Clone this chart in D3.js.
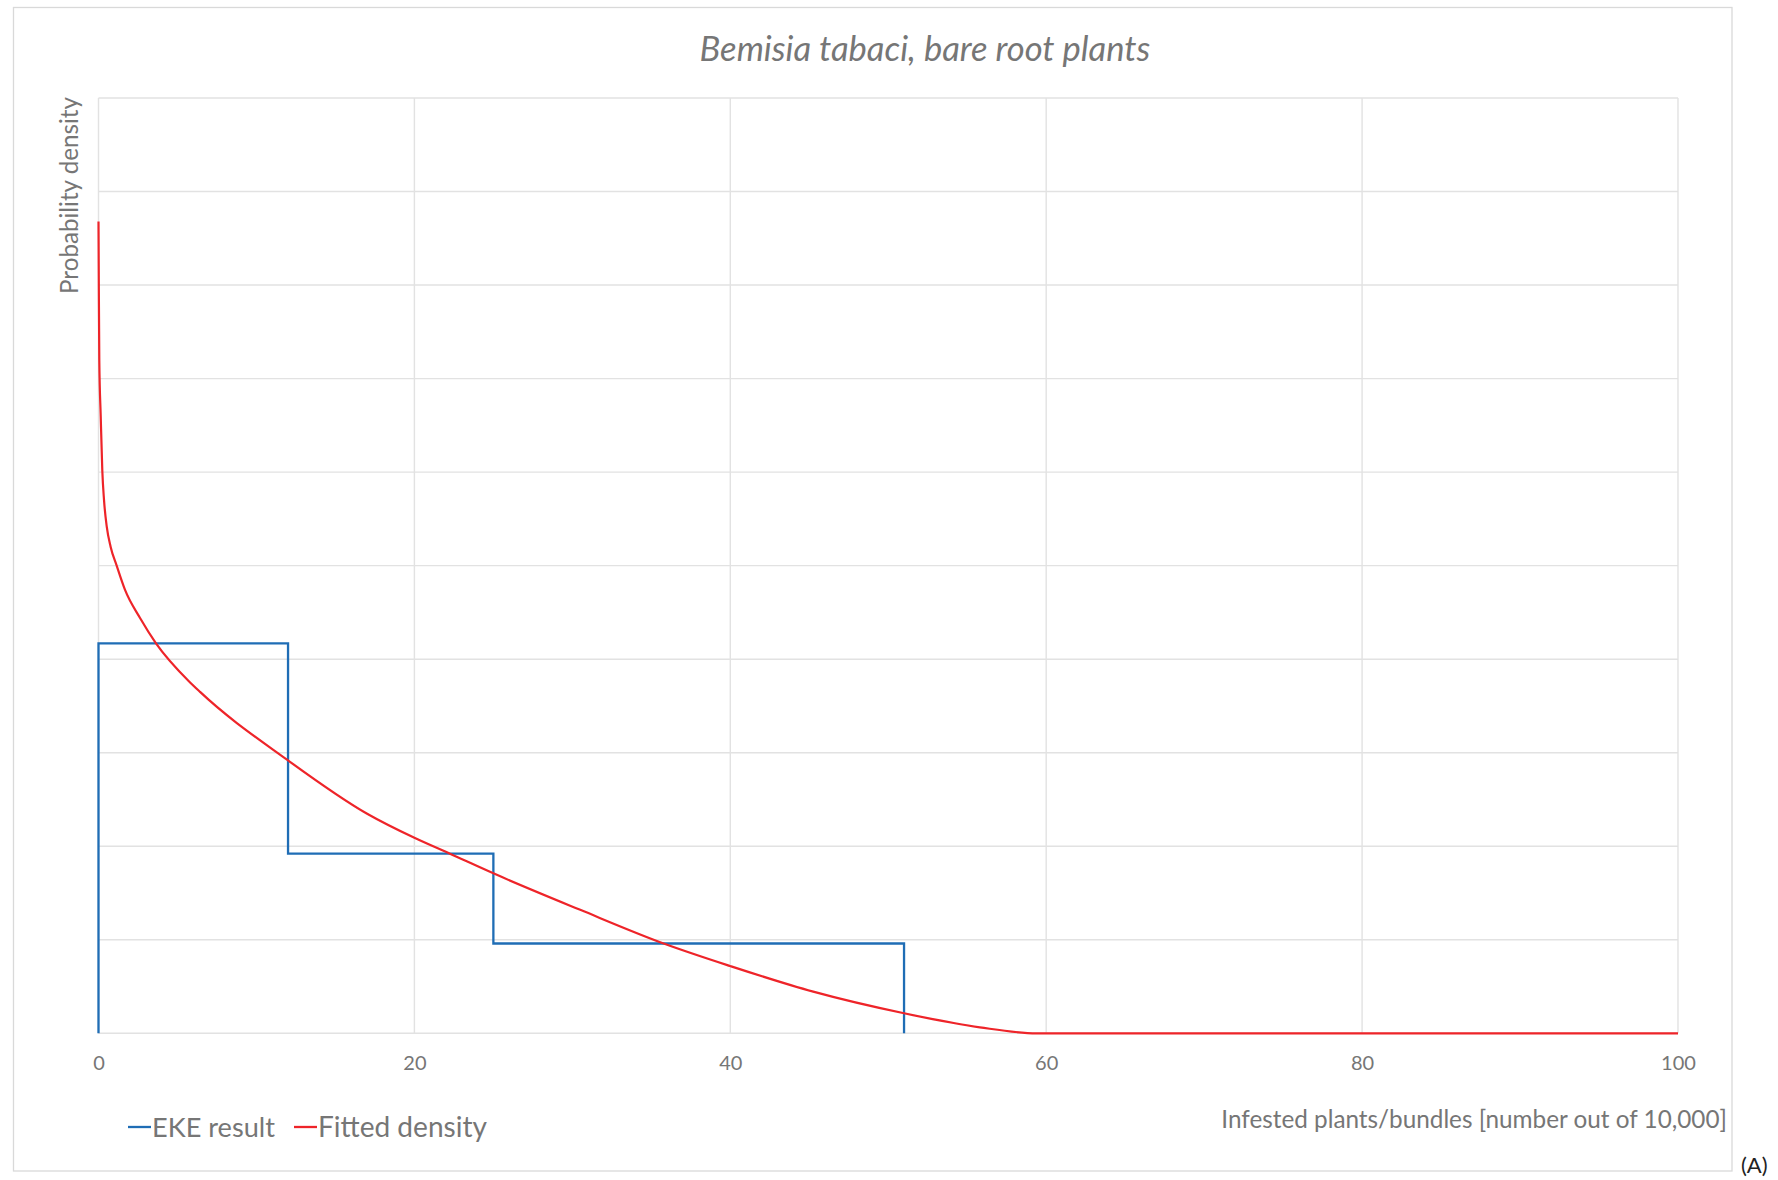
<!DOCTYPE html>
<html>
<head>
<meta charset="utf-8">
<script src="https://cdn.jsdelivr.net/npm/d3@7"></script>
<style>
  html, body { margin: 0; padding: 0; background: #ffffff; }
  svg { display: block; }
  text { font-family: Lato, "Open Sans", "DejaVu Sans", sans-serif; fill: #767676; }
</style>
</head>
<body>
<svg id="chart" width="1778" height="1180"></svg>
<script>
// ---- data ----
const chartTitle = "Bemisia tabaci, bare root plants";
const xTitle = "Infested plants/bundles [number out of 10,000]";
const yTitle = "Probability density";
const xTicks = [0, 20, 40, 60, 80, 100];
const yGridSteps = [0, 0.01, 0.02, 0.03, 0.04, 0.05, 0.06, 0.07, 0.08, 0.09, 0.1];

// EKE result: interval edges and density of each interval
const ekeEdges = [0, 12, 25, 51];
const ekeDensity = [0.0417, 0.0192, 0.0096];

// Fitted density curve (x, density)
const fittedX = [0, 0.02, 0.05, 0.14, 0.24, 0.35, 0.52, 0.77, 1.15, 1.68, 2.63, 3.64, 5.69, 6.43, 11.98, 16.98, 20, 22.25, 25, 30.5, 35.87, 39.98, 45.25, 51, 55.8, 59.4, 100];
const fittedY = [0.0868, 0.08, 0.072, 0.066, 0.0602, 0.057, 0.0542, 0.052, 0.05, 0.0474, 0.0444, 0.0417, 0.0377, 0.0365, 0.0292, 0.0235, 0.0209, 0.0192, 0.0171, 0.0132, 0.00955, 0.0072, 0.00445, 0.00214, 0.00064, 0, 0];

const legendItems = [
  { name: "EKE result", color: "#1f6db5" },
  { name: "Fitted density", color: "#ee2429" }
];

// ---- layout ----
const svg = d3.select("#chart");
const plot = { left: 98.5, right: 1678, top: 98, bottom: 1033.3 };

const x = d3.scaleLinear().domain([0, 100]).range([plot.left, plot.right]);
const y = d3.scaleLinear().domain([0, 0.1]).range([plot.bottom, plot.top]);

// scale a text's font size so that it spans the given width
function fitWidth(sel, width) {
  const cur = parseFloat(sel.attr("font-size"));
  const w = sel.node().getComputedTextLength();
  sel.attr("font-size", (cur * width / w).toFixed(2));
  return sel;
}

// outer chart frame
svg.append("rect")
  .attr("x", 13.5).attr("y", 7.5)
  .attr("width", 1732 - 13.5).attr("height", 1171 - 7.5)
  .attr("fill", "none").attr("stroke", "#d9d9d9").attr("stroke-width", 1.3);

// gridlines
const grid = svg.append("g").attr("stroke", "#e2e2e2").attr("stroke-width", 1.4);
grid.selectAll("line.h").data(yGridSteps).join("line")
  .attr("class", "h")
  .attr("x1", plot.left).attr("x2", plot.right)
  .attr("y1", d => y(d)).attr("y2", d => y(d));
grid.selectAll("line.v").data(xTicks).join("line")
  .attr("class", "v")
  .attr("x1", d => x(d)).attr("x2", d => x(d))
  .attr("y1", plot.top).attr("y2", plot.bottom);

// x axis labels
const xAxis = d3.axisBottom(x).tickValues(xTicks).tickSize(0).tickPadding(0);
const gx = svg.append("g").attr("transform", `translate(0,${plot.bottom})`).call(xAxis);
gx.select(".domain").remove();
gx.selectAll("text")
  .attr("dy", null)
  .attr("y", 37)
  .attr("font-size", 20)
  .style("font-family", "Lato, 'Open Sans', sans-serif")
  .attr("fill", "#767676");

// EKE result step outline
const ekePts = [[ekeEdges[0], 0]];
ekeDensity.forEach((d, i) => ekePts.push([ekeEdges[i], d]));
ekePts.push([ekeEdges[ekeEdges.length - 1], 0]);
const stepLine = d3.line().x(d => x(d[0])).y(d => y(d[1])).curve(d3.curveStepAfter);
svg.append("path")
  .attr("d", stepLine(ekePts))
  .attr("fill", "none")
  .attr("stroke", legendItems[0].color)
  .attr("stroke-width", 2.3);

// fitted density curve
const fitted = fittedX.map((v, i) => [v, fittedY[i]]);
const smooth = d3.line().x(d => x(d[0])).y(d => y(d[1])).curve(d3.curveMonotoneX);
svg.append("path")
  .attr("d", smooth(fitted))
  .attr("fill", "none")
  .attr("stroke", legendItems[1].color)
  .attr("stroke-width", 2.2);

// title
const t = svg.append("text")
  .attr("x", 925).attr("y", 61)
  .attr("text-anchor", "middle")
  .attr("font-size", 34)
  .attr("font-style", "italic")
  .text(chartTitle);
fitWidth(t, 451);

// y axis title
const yt = svg.append("text")
  .attr("transform", `translate(78,97) rotate(-90)`)
  .attr("text-anchor", "end")
  .attr("font-size", 26)
  .text(yTitle);
fitWidth(yt, 197);

// x axis title
const xt = svg.append("text")
  .attr("x", 1727).attr("y", 1128)
  .attr("text-anchor", "end")
  .attr("font-size", 26)
  .text(xTitle);
fitWidth(xt, 506);

// legend
const lg = svg.append("g");
const legendX = [128, 294];
const legendW = [123, 169];
legendItems.forEach((it, i) => {
  lg.append("line")
    .attr("x1", legendX[i]).attr("x2", legendX[i] + 23)
    .attr("y1", 1127).attr("y2", 1127)
    .attr("stroke", it.color).attr("stroke-width", 2.3);
  const lt = lg.append("text")
    .attr("x", legendX[i] + 24).attr("y", 1137)
    .attr("font-size", 30)
    .text(it.name);
  fitWidth(lt, legendW[i]);
});

// panel tag
svg.append("text")
  .attr("x", 1741).attr("y", 1173)
  .attr("font-size", 22)
  .style("fill", "#222222")
  .text("(A)");
</script>
</body>
</html>
